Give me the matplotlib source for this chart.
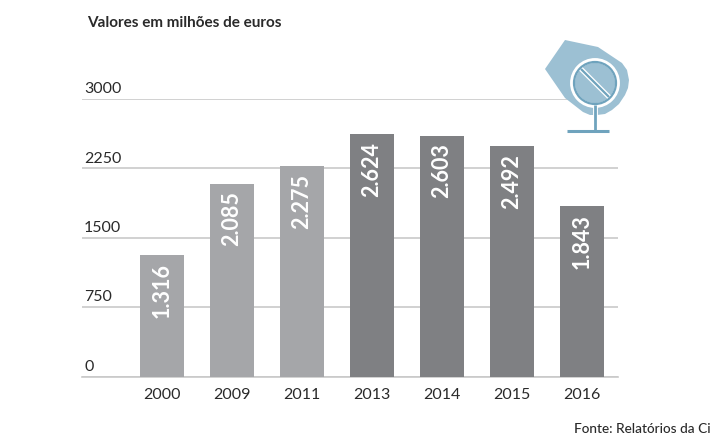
import matplotlib
matplotlib.use("Agg")
import matplotlib.pyplot as plt
from matplotlib.patches import Circle, Polygon

plt.rcParams["font.family"] = ["Lato", "DejaVu Sans"]

years = ["2000", "2009", "2011", "2013", "2014", "2015", "2016"]
values = [1316, 2085, 2275, 2624, 2603, 2492, 1843]
value_labels = ["1.316", "2.085", "2.275", "2.624", "2.603", "2.492", "1.843"]
y_ticks = [0, 750, 1500, 2250, 3000]
y_tick_labels = ["0", "750", "1500", "2250", "3000"]

W, H = 715, 445
LIGHT = "#a5a6a9"
DARK = "#7f8083"
GRID = "#c9c9c9"
INK = "#2a2a2a"
ICON = "#9cc0d3"
ICON_DARK = "#6fa3bd"

fig = plt.figure(figsize=(W / 100, H / 100), dpi=100)

# plot area in pixels: x 82-618, y 99-376.5
ax = fig.add_axes([82 / W, 1 - 376.5 / H, 536 / W, 277.5 / H])
ax.set_xlim(-80 / 70, 456 / 70)
ax.set_ylim(0, 3000)

colors = [LIGHT] * 3 + [DARK] * 4
ax.bar(range(len(years)), values, width=44 / 70, color=colors, zorder=3)

for i, (v, lab) in enumerate(zip(values, value_labels)):
    ax.text(i, v - 85, lab, rotation=90, ha="center", va="top",
            color="white", fontsize=15.5, fontweight="bold", zorder=4)

ax.set_yticks(y_ticks)
ax.set_yticklabels([])
ax.grid(axis="y", color=GRID, lw=1.2, zorder=1)
ax.set_axisbelow(True)
ax.tick_params(axis="y", length=0)
ax.tick_params(axis="x", length=0, pad=8, labelsize=11.5, labelcolor=INK)
ax.set_xticks(range(len(years)))
ax.set_xticklabels(years)
for s in ["top", "right", "left"]:
    ax.spines[s].set_visible(False)
ax.spines["bottom"].set_color(GRID)
ax.spines["bottom"].set_linewidth(1.2)

# y labels sit on top of the grid lines, inside the plot
for t, lab in zip(y_ticks, y_tick_labels):
    ax.annotate(lab, (0, t), xycoords=ax.get_yaxis_transform(),
                xytext=(1.5, 2), textcoords="offset points",
                ha="left", va="bottom", fontsize=11.5, color=INK)

fig.text(87 / W, 1 - 23 / H, "Valores em milhões de euros", fontsize=11,
         fontweight="bold", color=INK, ha="left", va="center")
fig.text(574 / W, 1 - 429 / H, "Fonte: Relatórios da Ci", fontsize=9.8,
         fontweight="medium", color=INK, ha="left", va="center")

# icon, drawn in pixel coordinates
icon = fig.add_axes([0, 0, 1, 1], zorder=5)
icon.set_xlim(0, W)
icon.set_ylim(H, 0)
icon.axis("off")
icon.patch.set_alpha(0)
blob = [(565, 40), (598, 47), (622, 63), (627, 70), (629, 80), (628, 88),
        (625, 95), (619, 104), (612, 110), (605, 114), (597, 115), (590, 115),
        (583, 112), (565, 98), (545, 69)]
icon.add_patch(Polygon(blob, closed=True, fc=ICON, ec="none"))
icon.add_patch(Circle((595, 83), 22.5, fc="none", ec="white", lw=3.5))
icon.add_patch(Circle((595, 83), 21, fc="none", ec=ICON_DARK, lw=1.6))
icon.plot([581, 609], [69, 97], color="white", lw=3.5, solid_capstyle="butt")
icon.plot([581, 609], [69, 97], color=ICON_DARK, lw=1.6, solid_capstyle="butt")
icon.plot([595, 595], [106, 130], color="white", lw=3.5, solid_capstyle="butt")
icon.plot([595, 595], [105, 130], color=ICON_DARK, lw=2, solid_capstyle="butt")
icon.plot([567, 609], [130.5, 130.5], color=ICON_DARK, lw=2.2, solid_capstyle="butt")

fig.savefig("out.png", dpi=100)
